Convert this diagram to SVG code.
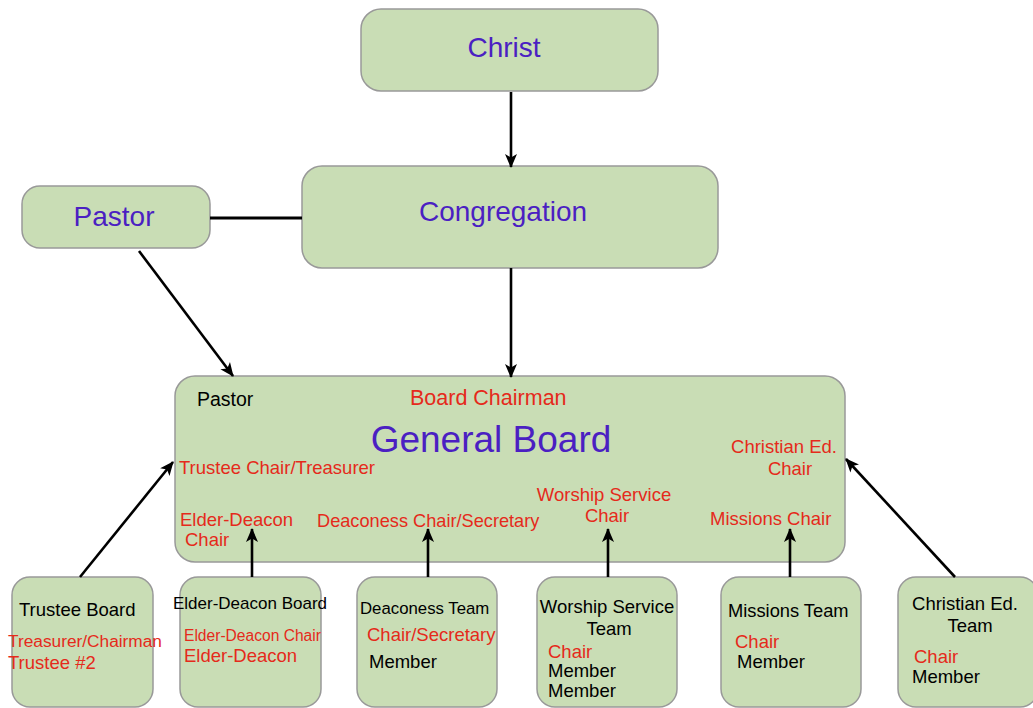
<svg xmlns="http://www.w3.org/2000/svg" width="1033" height="708" viewBox="0 0 1033 708">
<style>
.box{fill:#c9ddb5;stroke:#999;stroke-width:1.5}
text{font-family:"Liberation Sans",Arial,sans-serif}
.p{fill:#4b1fc2}
.r{fill:#e52a1b}
.k{fill:#000}
.c{stroke:#000;stroke-width:2.6;fill:none}
</style>
<defs>
<marker id="ah" viewBox="0 0 14 13" refX="13" refY="6.5" markerWidth="14" markerHeight="13" markerUnits="userSpaceOnUse" orient="auto">
<path d="M0,0.5 L14,6.5 L0,12.5 L3.5,6.5 Z" fill="#000"/>
</marker>
</defs>
<rect width="1033" height="708" fill="#fff"/>
<g id="christ">
<rect class="box" x="361" y="9" width="297" height="82" rx="20"/>
<text class="p" x="504" y="57" font-size="28" text-anchor="middle">Christ</text>
</g>
<g id="congregation">
<rect class="box" x="302" y="166" width="416" height="102" rx="20"/>
<text class="p" x="503" y="221" font-size="28" text-anchor="middle">Congregation</text>
</g>
<g id="pastor">
<rect class="box" x="22" y="186" width="188" height="62" rx="18"/>
<text class="p" x="114" y="226" font-size="28" text-anchor="middle">Pastor</text>
</g>
<g id="general-board">
<rect class="box" x="175" y="376" width="670" height="186" rx="20"/>
<text class="k" x="197" y="406" font-size="19.5">Pastor</text>
<text class="r" x="410" y="405" font-size="21.5">Board Chairman</text>
<text class="p" x="491" y="452" font-size="37" text-anchor="middle">General Board</text>
<text class="r" x="784" y="453" font-size="18.5" text-anchor="middle">Christian Ed.</text>
<text class="r" x="790" y="475" font-size="18.5" text-anchor="middle">Chair</text>
<text class="r" x="179" y="474" font-size="18.5">Trustee Chair/Treasurer</text>
<text class="r" x="604" y="501" font-size="18.5" text-anchor="middle">Worship Service</text>
<text class="r" x="607" y="522" font-size="18.5" text-anchor="middle">Chair</text>
<text class="r" x="180" y="526" font-size="18.5">Elder-Deacon</text>
<text class="r" x="185" y="546" font-size="18.5">Chair</text>
<text class="r" x="317" y="527" font-size="18.2">Deaconess Chair/Secretary</text>
<text class="r" x="710" y="525" font-size="18.5">Missions Chair</text>
</g>
<g id="trustee-board">
<rect class="box" x="12" y="577" width="141" height="130" rx="18"/>
<text class="k" x="19" y="616" font-size="18.5">Trustee Board</text>
<text class="r" x="8" y="647" font-size="17.3">Treasurer/Chairman</text>
<text class="r" x="8" y="669" font-size="18.5">Trustee #2</text>
</g>
<g id="elder-deacon-board">
<rect class="box" x="180" y="577" width="141" height="130" rx="18"/>
<text class="k" x="173" y="609" font-size="17">Elder-Deacon Board</text>
<text class="r" x="184" y="641" font-size="15.6">Elder-Deacon Chair</text>
<text class="r" x="184" y="662" font-size="18.5">Elder-Deacon</text>
</g>
<g id="deaconess-team">
<rect class="box" x="357" y="577" width="140" height="130" rx="18"/>
<text class="k" x="360" y="614" font-size="16.8">Deaconess Team</text>
<text class="r" x="367" y="641" font-size="18.5">Chair/Secretary</text>
<text class="k" x="369" y="668" font-size="18.5">Member</text>
</g>
<g id="worship-service-team">
<rect class="box" x="537" y="577" width="140" height="130" rx="18"/>
<text class="k" x="607" y="613" font-size="18.5" text-anchor="middle">Worship Service</text>
<text class="k" x="609" y="635" font-size="18.5" text-anchor="middle">Team</text>
<text class="r" x="548" y="658" font-size="18.5">Chair</text>
<text class="k" x="548" y="677" font-size="18.5">Member</text>
<text class="k" x="548" y="697" font-size="18.5">Member</text>
</g>
<g id="missions-team">
<rect class="box" x="721" y="577" width="140" height="130" rx="18"/>
<text class="k" x="728" y="617" font-size="18.3">Missions Team</text>
<text class="r" x="735" y="648" font-size="18.5">Chair</text>
<text class="k" x="737" y="668" font-size="18.5">Member</text>
</g>
<g id="christian-ed-team">
<rect class="box" x="898" y="577" width="140" height="130" rx="18"/>
<text class="k" x="965" y="610" font-size="18.5" text-anchor="middle">Christian Ed.</text>
<text class="k" x="970" y="632" font-size="18.5" text-anchor="middle">Team</text>
<text class="r" x="914" y="663" font-size="18.5">Chair</text>
<text class="k" x="912" y="683" font-size="18.5">Member</text>
</g>
<g id="connectors">
<line class="c" x1="511" y1="92" x2="511" y2="167" marker-end="url(#ah)"/>
<line class="c" x1="210" y1="218" x2="302" y2="218" style="stroke-width:3.2"/>
<line class="c" x1="139" y1="251" x2="233" y2="376" marker-end="url(#ah)"/>
<line class="c" x1="511" y1="268" x2="511" y2="377" marker-end="url(#ah)"/>
<line class="c" x1="80" y1="577" x2="173" y2="462" marker-end="url(#ah)"/>
<line class="c" x1="252" y1="577" x2="252" y2="529" marker-end="url(#ah)"/>
<line class="c" x1="428" y1="577" x2="428" y2="529" marker-end="url(#ah)"/>
<line class="c" x1="608" y1="577" x2="608" y2="529" marker-end="url(#ah)"/>
<line class="c" x1="790" y1="577" x2="790" y2="529" marker-end="url(#ah)"/>
<line class="c" x1="955" y1="577" x2="846" y2="459" marker-end="url(#ah)"/>
</g>
</svg>
